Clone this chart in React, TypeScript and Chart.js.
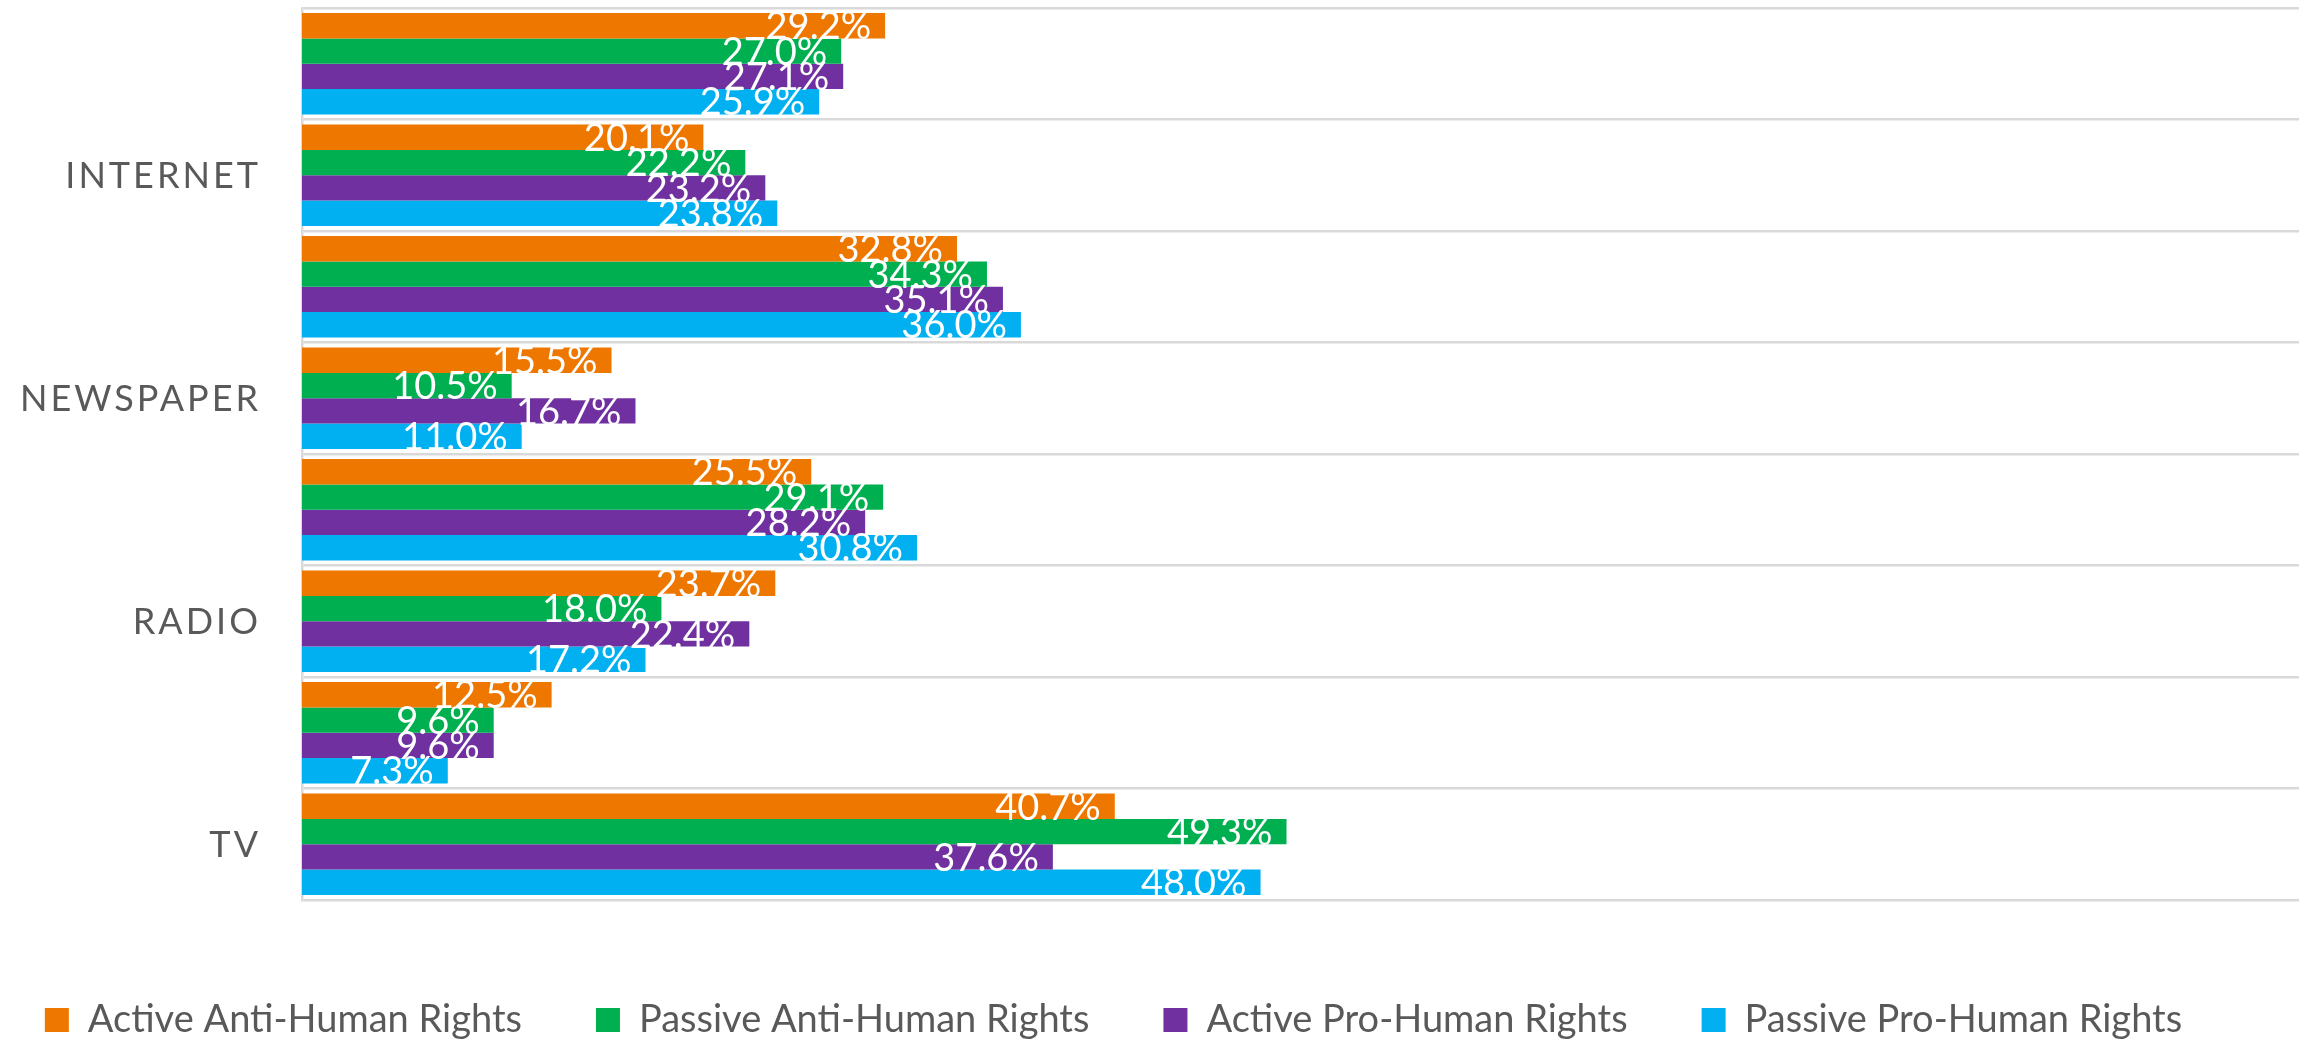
import React, { useEffect, useRef } from "react";
import { Chart, registerables } from "chart.js";

Chart.register(...registerables);

const categories = ["", "INTERNET", "", "NEWSPAPER", "", "RADIO", "", "TV"];
const seriesNames = [
  "Active Anti-Human Rights",
  "Passive Anti-Human Rights",
  "Active Pro-Human Rights",
  "Passive Pro-Human Rights",
];
const activeAnti = [29.2, 20.1, 32.8, 15.5, 25.5, 23.7, 12.5, 40.7];
const passiveAnti = [27.0, 22.2, 34.3, 10.5, 29.1, 18.0, 9.6, 49.3];
const activePro = [27.1, 23.2, 35.1, 16.7, 28.2, 22.4, 9.6, 37.6];
const passivePro = [25.9, 23.8, 36.0, 11.0, 30.8, 17.2, 7.3, 48.0];
const seriesColors = ["#EE7700", "#00B050", "#7030A0", "#00B0F0"];

const FONT = "Lato";
const TEXT_GRAY = "#595959";
const GRID = "#D9D9D9";
const LABEL_SIZE = 38;
const LEGEND_SIZE = 38;

const dataLabelPlugin = {
  id: "barValueLabels",
  afterDatasetsDraw(chart: any) {
    const ctx = chart.ctx;
    const size = LABEL_SIZE;
    ctx.save();
    ctx.font = `${size}px ${FONT}`;
    ctx.fillStyle = "#FFFFFF";
    ctx.textAlign = "right";
    ctx.textBaseline = "alphabetic";
    chart.data.datasets.forEach((ds: any, di: number) => {
      const meta = chart.getDatasetMeta(di);
      meta.data.forEach((el: any, i: number) => {
        const v = ds.data[i];
        ctx.fillText(`${v.toFixed(1)}%`, el.x - 14, el.y + size * 0.36);
      });
    });
    ctx.restore();
  },
};

const categoryLabelPlugin = {
  id: "spacedCategoryLabels",
  afterDraw(chart: any) {
    const ctx = chart.ctx;
    const yScale = chart.scales.y;
    const size = 36;
    const spacing = 3;
    ctx.save();
    ctx.font = `${size}px ${FONT}`;
    (ctx as any).letterSpacing = `${spacing}px`;
    ctx.fillStyle = TEXT_GRAY;
    ctx.textAlign = "right";
    ctx.textBaseline = "alphabetic";
    chart.data.labels.forEach((lab: string, i: number) => {
      if (!lab) return;
      const y = yScale.getPixelForValue(i);
      ctx.fillText(lab, chart.chartArea.left - 44 + spacing, y + size * 0.36);
    });
    ctx.restore();
  },
};

const legendShiftPlugin = {
  id: "legendShift",
  afterLayout(chart: any) {
    const lg = chart.legend;
    if (!lg) return;
    const dx = -36;
    const dy = 27;
    lg.left += dx;
    lg.right += dx;
    lg.top += dy;
    lg.bottom += dy;
  },
};

export default function App() {
  const canvasRef = useRef<HTMLCanvasElement | null>(null);

  useEffect(() => {
    if (!canvasRef.current) return;
    const chart = new Chart(canvasRef.current, {
      type: "bar",
      data: {
        labels: categories,
        datasets: [activeAnti, passiveAnti, activePro, passivePro].map((d, i) => ({
          label: seriesNames[i],
          data: d,
          backgroundColor: seriesColors[i],
          borderWidth: 0,
          barPercentage: 1,
          categoryPercentage: 0.91,
        })),
      },
      options: {
        indexAxis: "y",
        animation: false,
        responsive: false,
        devicePixelRatio: 1,
        layout: { padding: { top: 8, right: 9, bottom: 19, left: 0 } },
        scales: {
          x: {
            display: false,
            min: 0,
            max: 100,
          },
          y: {
            ticks: { display: false },
            grid: { color: GRID, lineWidth: 2.5, drawTicks: false, offset: true },
            border: { display: true, color: GRID, width: 2.5 },
            afterFit: (scale: any) => {
              scale.width = 302;
            },
          },
        },
        plugins: {
          tooltip: { enabled: false },
          legend: {
            position: "bottom",
            labels: {
              boxWidth: 24,
              boxHeight: 24,
              padding: 74,
              color: TEXT_GRAY,
              font: { family: FONT, size: LEGEND_SIZE },
            },
          },
        },
      },
      plugins: [dataLabelPlugin, categoryLabelPlugin, legendShiftPlugin],
    });
    const fonts: any = (document as any).fonts;
    if (fonts && fonts.load) {
      Promise.all([fonts.load(`38px ${FONT}`), fonts.load(`36px ${FONT}`)]).then(() => {
        chart.update();
      });
    }
    return () => chart.destroy();
  }, []);

  return (
    <div style={{ position: "absolute", left: 0, top: 0, width: 2308, height: 1041, background: "#fff" }}>
      <canvas ref={canvasRef} width={2308} height={1041} style={{ display: "block" }} />
    </div>
  );
}
